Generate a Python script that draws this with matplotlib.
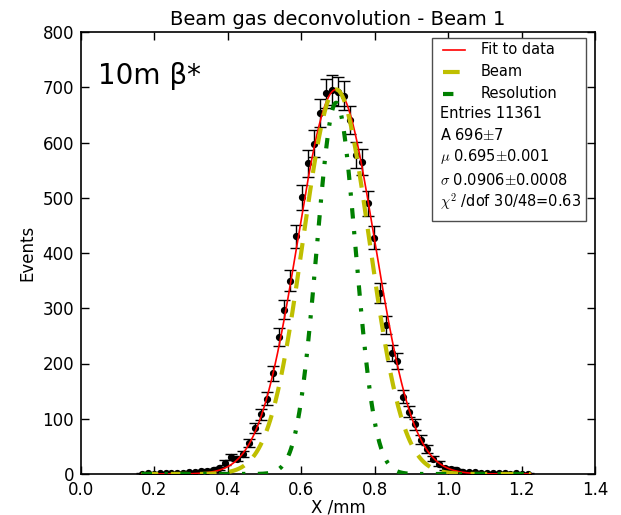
import numpy as np
import matplotlib
matplotlib.use("Agg")
import matplotlib.pyplot as plt
from matplotlib.lines import Line2D
from matplotlib.patches import Rectangle

plt.rcParams['font.family'] = ['DejaVu Sans']
plt.rcParams['mathtext.fontset'] = 'cm'

# ---- data ----
bin_start = 0.7 - 33 * 0.0162
bin_width = 0.0162
counts = [0, 1, 0, 1, 2, 1, 2, 2, 3, 4,
          5, 6, 7, 10, 20, 30, 28, 36, 56, 83,
          108, 136, 182, 248, 297, 350, 430, 501, 562, 598,
          653, 689, 695, 692, 685, 641, 577, 565, 490, 428,
          328, 270, 219, 204, 140, 113, 90, 62, 45, 28,
          19, 10, 9, 7, 4, 3, 4, 2, 1, 2,
          1, 1, 0, 1, 0, 0]
x_centers = bin_start + bin_width * np.arange(len(counts))

# fit parameters (from the stats box / curves)
fit_A, fit_mu = 696, 0.695
beam_sigma = 0.0906
res_sigma = 0.053
res_A = 672
fit_sigma = np.sqrt(beam_sigma**2 + res_sigma**2)

x_ticks = [0.0, 0.2, 0.4, 0.6, 0.8, 1.0, 1.2, 1.4]
y_ticks = [0, 100, 200, 300, 400, 500, 600, 700, 800]

legend_labels = ["Fit to data", "Beam", "Resolution"]
stats_lines = ["Entries 11361",
               r"A 696$\pm$7",
               r"$\mu$ 0.695$\pm$0.001",
               r"$\sigma$ 0.0906$\pm$0.0008",
               r"$\chi^2$ /dof 30/48=0.63"]

# ---- figure ----
fig = plt.figure(figsize=(6.21, 5.15), dpi=100)
ax = fig.add_axes([81/621, 1-474/515, (595-81)/621, (474-32)/515])

xs = np.linspace(0.165, 1.225, 600)
gauss = lambda x, A, m, s: A * np.exp(-(x - m)**2 / (2 * s**2))

counts_arr = np.array(counts, dtype=float)
errs = np.sqrt(np.maximum(counts_arr, 1))
ax.errorbar(x_centers, counts_arr, yerr=errs, fmt='o', color='k', ms=4.2,
            capsize=4, elinewidth=1, capthick=1, zorder=3)

ax.plot(xs, gauss(xs, fit_A, fit_mu, fit_sigma), color='r', lw=1.2, zorder=4)
ax.plot(xs, gauss(xs, fit_A, fit_mu, beam_sigma), color=(0.75, 0.75, 0),
        lw=3, dashes=(4, 3), zorder=4)
ax.plot(xs, gauss(xs, res_A, fit_mu, res_sigma), color=(0, 0.5, 0),
        lw=3, dashes=(2.5, 3, 0.8, 3), zorder=4)

ax.set_xlim(0, 1.4)
ax.set_ylim(0, 800)
ax.set_xticks(x_ticks)
ax.set_xticklabels([f"{t:.1f}" for t in x_ticks])
ax.set_yticks(y_ticks)
ax.tick_params(direction='in', top=True, right=True, length=6, width=1,
               labelsize=12, pad=5)
for s in ax.spines.values():
    s.set_linewidth(1.2)

ax.set_title("Beam gas deconvolution - Beam 1", fontsize=14, pad=5)
ax.set_xlabel("X /mm", fontsize=12, labelpad=0)
ax.set_ylabel("Events", fontsize=12, labelpad=4)

ax.text(0.033, 0.90, "10m β*", transform=ax.transAxes, fontsize=20,
        ha='left', va='center')

# ---- legend / stats box (built manually) ----
W, H = 514, 442
def fx(px):
    return (px - 81) / W
def fy(py):
    return (474 - py) / H

ax.add_patch(Rectangle((fx(432), fy(221)), fx(586) - fx(432), fy(38) - fy(221),
                       transform=ax.transAxes, fill=True, facecolor='white',
                       edgecolor='0.3', lw=1, zorder=5))
rows = [50, 72, 94, 114, 135, 157, 180, 202]
styles = [dict(color='r', lw=1.2),
          dict(color=(0.75, 0.75, 0), lw=3, dashes=(4, 3)),
          dict(color=(0, 0.5, 0), lw=3, dashes=(2.5, 3, 0.8, 3))]
for lab, st, ry in zip(legend_labels, styles, rows[:3]):
    ax.add_line(Line2D([fx(443), fx(465)], [fy(ry), fy(ry)],
                       transform=ax.transAxes, zorder=6, **st))
    ax.text(fx(481), fy(ry), lab, transform=ax.transAxes, fontsize=10.5,
            ha='left', va='center', zorder=6)
for txt, ry in zip(stats_lines, rows[3:]):
    ax.text(fx(440), fy(ry), txt, transform=ax.transAxes, fontsize=10.5,
            ha='left', va='center', zorder=6)

fig.savefig("out.png", dpi=100)
